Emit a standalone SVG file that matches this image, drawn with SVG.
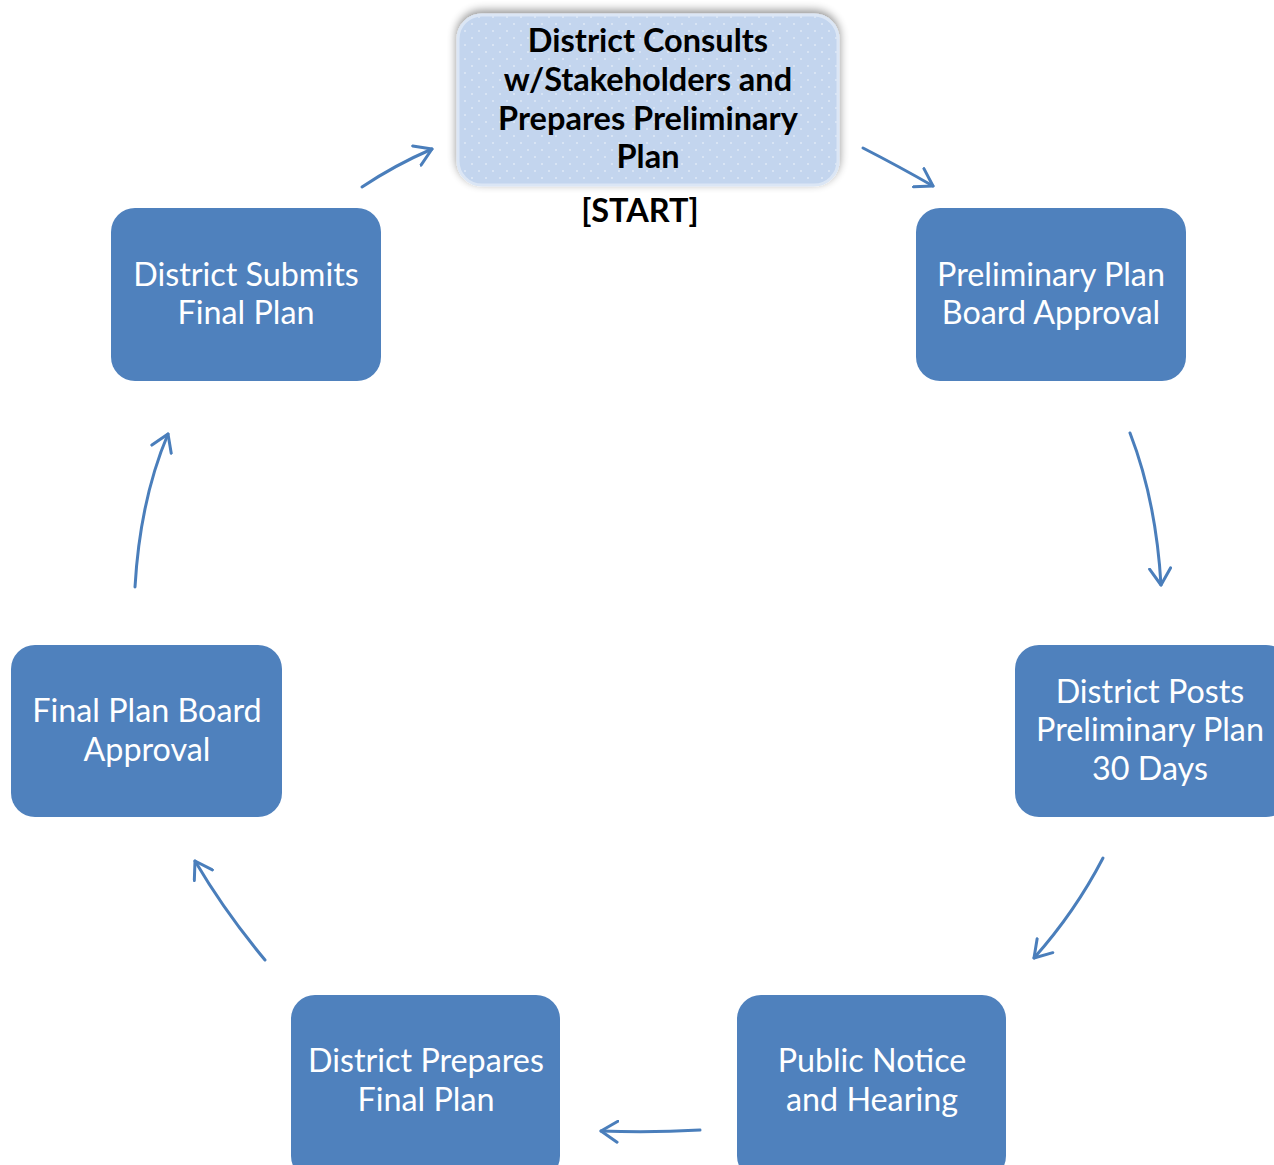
<svg xmlns="http://www.w3.org/2000/svg" width="1274" height="1165" viewBox="0 0 1274 1165">
<style>
.box{fill:#4f81bd}
.t{font-family:Lato,"Open Sans","Liberation Sans",sans-serif;font-size:32.3px;fill:#ffffff;text-anchor:middle}
.tb{font-family:Lato,"Open Sans","Liberation Sans",sans-serif;font-size:32.5px;font-weight:bold;fill:#000000;text-anchor:middle}
.c{fill:none;stroke:#4a7ebb;stroke-width:3;stroke-linecap:round;marker-end:url(#ah)}
</style>
<defs>
<marker id="ah" markerWidth="8" markerHeight="8" refX="6" refY="4" orient="auto" markerUnits="strokeWidth">
<path d="M0.5,0.5 L6,4 L0.5,7.5" fill="none" stroke="#4a7ebb" stroke-width="1" stroke-linecap="round" stroke-linejoin="round"/>
</marker>
<pattern id="dots" width="14" height="14" patternUnits="userSpaceOnUse">
<rect width="14" height="14" fill="#c3d5ee"/>
<circle cx="3" cy="3" r="1" fill="#dfe9f7"/>
<circle cx="10" cy="10" r="1" fill="#dfe9f7"/>
</pattern>
<filter id="sh" x="-10%" y="-20%" width="120%" height="140%">
<feGaussianBlur in="SourceAlpha" stdDeviation="5"/>
<feOffset dx="0" dy="-3" result="b"/>
<feComponentTransfer><feFuncA type="linear" slope="0.45"/></feComponentTransfer>
<feMerge><feMergeNode/><feMergeNode in="SourceGraphic"/></feMerge>
</filter>
</defs>
<rect width="1274" height="1165" fill="#ffffff"/>
<g id="n-start">
<rect x="458" y="15" width="380" height="170" rx="24" fill="url(#dots)" stroke="#dbe6f5" stroke-width="3" filter="url(#sh)"/>
<text class="tb" x="648" y="52">District Consults</text>
<text class="tb" x="648" y="91">w/Stakeholders and</text>
<text class="tb" x="648" y="130">Prepares Preliminary</text>
<text class="tb" x="648" y="168">Plan</text>
<text class="tb" x="640" y="222">[START]</text>
</g>
<g id="n-prelim">
<rect class="box" x="916" y="208" width="270" height="173" rx="24"/>
<text class="t" x="1051" y="286">Preliminary Plan</text>
<text class="t" x="1051" y="324">Board Approval</text>
</g>
<g id="n-posts">
<rect class="box" x="1015" y="645" width="275" height="172" rx="24"/>
<text class="t" x="1150" y="703">District Posts</text>
<text class="t" x="1150" y="741">Preliminary Plan</text>
<text class="t" x="1150" y="780">30 Days</text>
</g>
<g id="n-public">
<rect class="box" x="737" y="995" width="269" height="185" rx="24"/>
<text class="t" x="872" y="1072">Public Notice</text>
<text class="t" x="872" y="1111">and Hearing</text>
</g>
<g id="n-prepares">
<rect class="box" x="291" y="995" width="269" height="185" rx="24"/>
<text class="t" x="426" y="1072">District Prepares</text>
<text class="t" x="426" y="1111">Final Plan</text>
</g>
<g id="n-finalboard">
<rect class="box" x="11" y="645" width="271" height="172" rx="24"/>
<text class="t" x="147" y="722">Final Plan Board</text>
<text class="t" x="147" y="761">Approval</text>
</g>
<g id="n-submits">
<rect class="box" x="111" y="208" width="270" height="173" rx="24"/>
<text class="t" x="246" y="286">District Submits</text>
<text class="t" x="246" y="324">Final Plan</text>
</g>
<g id="connectors">
<path class="c" d="M362,187 Q395,165 432,149"/>
<path class="c" d="M863,148 Q900,167 933,186"/>
<path class="c" d="M1130,433 Q1156,500 1161,585"/>
<path class="c" d="M1103,858 Q1075,912 1034,958"/>
<path class="c" d="M700,1130 Q650,1133 601,1131"/>
<path class="c" d="M265,960 Q225,912 195,861"/>
<path class="c" d="M135,587 Q140,500 168,434"/>
</g>
</svg>
